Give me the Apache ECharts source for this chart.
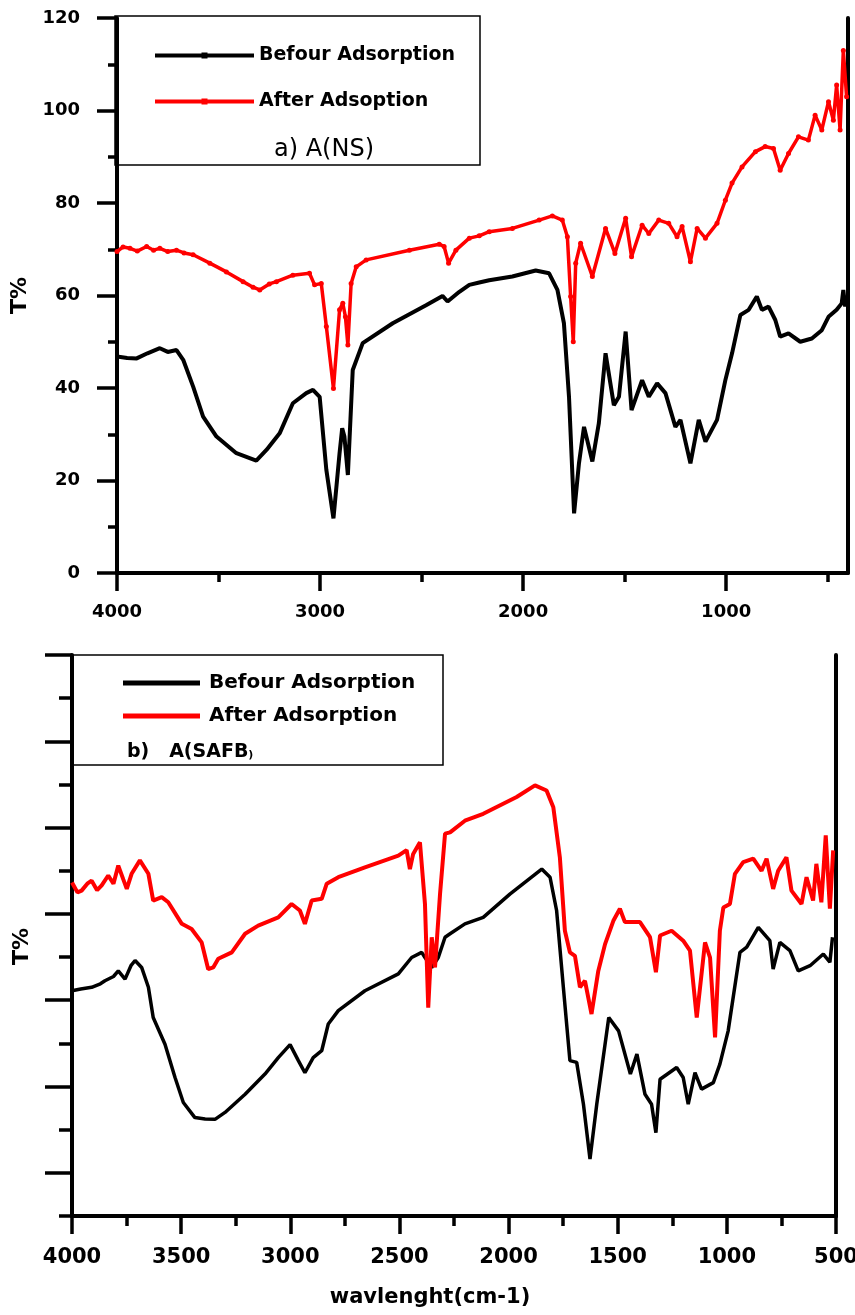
<!DOCTYPE html>
<html>
<head>
<meta charset="utf-8">
<script src="https://cdn.jsdelivr.net/npm/echarts@6/dist/echarts.min.js"></script>
<style>
html,body{margin:0;padding:0;background:#fff;}
#chart{width:855px;height:1315px;}
</style>
</head>
<body>
<div id="chart"></div>
<script>
// ---------- Panel a) A(NS) ----------
const nsBeforeWave = [4000,3950,3903,3850,3789,3750,3707,3674,3625,3576,3510,3412,3314,3264,3199,3134,3068,3035,3002,2969,2934,2904,2891,2880,2863,2839,2790,2642,2478,2397,2372,2314,2265,2216,2167,2053,1938,1872,1831,1799,1774,1749,1725,1700,1659,1627,1594,1553,1528,1495,1466,1414,1381,1340,1299,1250,1225,1176,1135,1102,1045,1004,971,930,889,849,824,791,758,734,693,635,578,529,496,456,431,423,414,408];
const nsBeforeT = [46.8,46.5,46.4,47.5,48.6,47.8,48.2,46.1,40.3,33.8,29.5,25.9,24.3,26.6,30.2,36.7,38.9,39.6,38.1,22.3,11.8,25.9,31.3,29.5,21.2,43.9,49.7,54,57.9,59.9,58.7,60.8,62.3,62.8,63.3,64.1,65.4,64.8,61.2,54,38.1,12.9,23.7,31.6,24.1,32.4,47.5,36.3,38.1,52.2,35.2,41.7,38.1,41,38.9,31.6,33.1,23.7,33.1,28.4,33.1,41.7,47.5,55.8,56.9,59.8,56.9,57.6,54.7,51.1,51.8,50,50.7,52.5,55.4,56.9,58.3,61.2,57.6,60];

const nsAfterWave = [4000,3970,3936,3900,3854,3820,3789,3750,3707,3670,3625,3543,3461,3379,3330,3297,3250,3215,3134,3052,3027,2994,2969,2934,2904,2888,2875,2863,2847,2822,2773,2560,2413,2389,2367,2331,2265,2216,2167,2053,1921,1856,1807,1782,1766,1753,1741,1717,1659,1594,1548,1495,1466,1414,1381,1332,1283,1242,1217,1176,1143,1102,1045,1004,971,922,856,808,767,734,693,644,595,562,529,496,472,456,439,423,407];
const nsAfterT = [69.5,70.5,70.2,69.6,70.6,69.8,70.2,69.5,69.8,69.2,68.8,67.0,65.1,63.0,61.8,61.2,62.5,63,64.4,64.8,62.3,62.6,53.3,39.9,56.9,58.3,55.4,49.3,62.6,66.2,67.7,69.8,71.1,70.6,67,69.8,72.4,72.9,73.8,74.5,76.3,77.2,76.3,72.7,59.8,50,67,71.3,64.1,74.5,69.1,76.7,68.4,75.2,73.4,76.3,75.6,72.7,74.9,67.3,74.5,72.4,75.6,80.6,84.3,87.8,91.1,92.2,91.8,87.1,90.7,94.3,93.6,99,95.8,101.9,97.9,105.5,95.8,113,103];

const topYTicks = [0,20,40,60,80,100,120];
const topXMajor = [4000,3000,2000,1000];
const topXMinor = [3500,2500,1500,500];

// ---------- Panel b) A(SAFB) ----------
const safbBeforeWave = [4000,3960,3910,3870,3849,3810,3788,3757,3730,3711,3681,3650,3628,3574,3528,3490,3437,3390,3345,3299,3207,3116,3055,3001,2963,2933,2895,2856,2826,2780,2658,2505,2444,2398,2383,2352,2322,2291,2268,2200,2116,1994,1848,1810,1780,1749,1719,1688,1657,1627,1596,1541,1496,1442,1412,1375,1345,1325,1306,1230,1200,1177,1146,1116,1062,1032,994,940,909,856,803,788,757,711,673,619,558,528,516];
const safbBeforeT = [52.2,52.6,53.0,53.8,54.5,55.5,56.8,54.9,58,59.2,57.6,53,46,39.8,32.1,26.3,22.8,22.5,22.4,24,28.2,32.9,36.7,39.7,36,33.2,36.7,38.3,44.5,47.6,52.2,56.1,59.9,61.1,59.9,57.6,59.9,64.6,65.4,67.7,69.2,74.6,80.4,78.5,70.8,53,36,35.6,25.9,13.2,25.9,46,42.9,32.9,37.5,28.2,25.9,19.3,31.7,34.4,32.1,25.9,33.2,29.4,30.9,35.2,42.9,61.1,62.3,66.9,63.8,57.2,63.4,61.5,56.8,58,60.7,58.8,64.6];

const safbAfterWave = [4000,3975,3956,3930,3910,3885,3864,3834,3810,3788,3765,3749,3727,3689,3650,3628,3589,3559,3497,3452,3406,3376,3353,3330,3268,3207,3147,3055,2994,2956,2933,2902,2856,2833,2780,2658,2505,2467,2452,2437,2406,2383,2368,2352,2337,2314,2291,2268,2200,2116,1963,1879,1826,1795,1765,1742,1719,1696,1673,1650,1620,1589,1558,1520,1490,1467,1398,1352,1325,1306,1253,1200,1169,1138,1100,1077,1054,1032,1016,986,963,925,879,841,818,788,765,727,704,658,635,605,590,567,547,528,513];
const safbAfterT = [77.3,75.0,75.4,77.0,77.7,75.5,76.6,78.9,77,81.2,78,75.8,79.3,82.4,79.3,73.1,73.9,72.7,67.7,66.5,63.4,57.2,57.6,59.6,61.1,65.4,67.3,69.2,72.3,70.8,67.7,73.1,73.5,77,78.5,80.8,83.5,84.8,80.4,83.9,86.6,72.3,48.3,64.6,57.6,74.6,88.6,88.9,91.6,93.2,97.1,99.8,98.6,94.7,83.1,66.1,61.1,60.3,53,54.5,46.8,56.8,63,68.4,71.2,68.1,68.1,64.6,56.5,65,66.1,63.8,61.5,46,63.4,59.9,41.4,66.1,71.5,72.3,79.3,82,82.8,80,82.8,75.8,80,83.1,75.4,72.3,78.5,73.1,81.6,72.7,88.2,71.2,84.7];

const botYLong = [10,30,50,70,90,110,130];
const botYShort = [0,20,40,60,80,100,120];

function pairs(w, t){ return w.map((v,i)=>[v,t[i]]); }
const plain = v => String(v);

const FONT = 'DejaVu Sans';
const black = '#000000', red = '#ff0000';
const axisLineStyle = {color: black, width: 4};
const tickLine = {color: black, width: 3.5};

const option = {
  backgroundColor: '#ffffff',
  animation: false,
  grid: [
    {left: 117, top: 18, width: 731, height: 555, outerBoundsMode: 'none', containLabel: false},
    {left: 72, top: 655, width: 764, height: 561, outerBoundsMode: 'none', containLabel: false}
  ],
  legend: [
    {
      left: 150, top: 41, orient: 'vertical',
      itemWidth: 99, itemHeight: 10, itemGap: 27,
      selectedMode: false,
      textStyle: {fontFamily: FONT, fontWeight: 'bold', fontSize: 19, color: black},
      data: [
        {name: 'Befour Adsorption', icon: 'path://M0,2L99,2L99,6L0,6Z M46.5,1L52.5,1L52.5,7L46.5,7Z'},
        {name: 'After Adsoption', icon: 'path://M0,2L99,2L99,6L0,6Z M46.5,1L52.5,1L52.5,7L46.5,7Z'}
      ]
    },
    {
      left: 118, top: 668, orient: 'vertical',
      itemWidth: 77, itemHeight: 5, itemGap: 13,
      selectedMode: false,
      textStyle: {fontFamily: FONT, fontWeight: 'bold', fontSize: 20, color: black, padding: [0,0,0,4]},
      data: [
        {name: 'Befour Adsorption', icon: 'rect'},
        {name: 'After Adsorption', icon: 'rect'}
      ]
    }
  ],
  xAxis: [
    {
      gridIndex: 0, type: 'value', min: 400, max: 4000, inverse: true, position: 'bottom',
      axisLine: {show: true, lineStyle: axisLineStyle},
      axisTick: {show: true, customValues: topXMajor, length: 18, lineStyle: tickLine},
      axisLabel: {customValues: topXMajor, formatter: plain, margin: 30, fontFamily: FONT, fontWeight: 'bold', fontSize: 18, color: black},
      splitLine: {show: false}
    },
    {
      gridIndex: 0, type: 'value', min: 400, max: 4000, inverse: true, position: 'bottom',
      axisLine: {show: false},
      axisTick: {show: true, customValues: topXMinor, length: 9, lineStyle: tickLine},
      axisLabel: {show: false},
      splitLine: {show: false}
    },
    {
      gridIndex: 1, type: 'value', min: 500, max: 4000, interval: 500, inverse: true, position: 'bottom',
      axisLine: {show: true, lineStyle: axisLineStyle},
      axisTick: {show: true, length: 18, lineStyle: tickLine},
      minorTick: {show: true, splitNumber: 2, length: 10, lineStyle: tickLine},
      axisLabel: {margin: 31, formatter: plain, fontFamily: FONT, fontWeight: 'bold', fontSize: 21, color: black},
      splitLine: {show: false},
      name: 'wavlenght(cm-1)', nameLocation: 'middle', nameGap: 71,
      nameTextStyle: {fontFamily: FONT, fontWeight: 'bold', fontSize: 21, color: black, padding: [0,48,0,0]}
    },
    {
      gridIndex: 1, type: 'value', min: 500, max: 4000, inverse: true, position: 'top',
      axisLine: {show: true, lineStyle: {color: black, width: 3}},
      axisTick: {show: false}, axisLabel: {show: false}, splitLine: {show: false}
    }
  ],
  yAxis: [
    {
      gridIndex: 0, type: 'value', min: 0, max: 120, interval: 20, position: 'left',
      axisLine: {show: true, lineStyle: axisLineStyle},
      axisTick: {show: true, length: 20, lineStyle: tickLine},
      minorTick: {show: true, splitNumber: 2, length: 9, lineStyle: tickLine},
      axisLabel: {margin: 37, formatter: plain, fontFamily: FONT, fontWeight: 'bold', fontSize: 18, color: black,
                  customValues: topYTicks},
      splitLine: {show: false},
      name: 'T%', nameLocation: 'middle', nameGap: 86, nameRotate: 90,
      nameTextStyle: {fontFamily: FONT, fontWeight: 'bold', fontSize: 22, color: black}
    },
    {
      gridIndex: 0, type: 'value', min: 0, max: 120, position: 'right',
      axisLine: {show: true, lineStyle: axisLineStyle},
      axisTick: {show: false}, axisLabel: {show: false}, splitLine: {show: false}
    },
    {
      gridIndex: 1, type: 'value', min: 0, max: 130, position: 'left',
      axisLine: {show: true, lineStyle: axisLineStyle},
      axisTick: {show: true, customValues: botYLong, length: 27, lineStyle: tickLine},
      axisLabel: {show: false},
      splitLine: {show: false},
      name: 'T%', nameLocation: 'middle', nameGap: 39, nameRotate: 90,
      nameTextStyle: {fontFamily: FONT, fontWeight: 'bold', fontSize: 22, color: black, padding: [0,22,0,0]}
    },
    {
      gridIndex: 1, type: 'value', min: 0, max: 130, position: 'left',
      axisLine: {show: false},
      axisTick: {show: true, customValues: botYShort, length: 13, lineStyle: tickLine},
      axisLabel: {show: false}, splitLine: {show: false}
    },
    {
      gridIndex: 1, type: 'value', min: 0, max: 130, position: 'right',
      axisLine: {show: true, lineStyle: axisLineStyle},
      axisTick: {show: false}, axisLabel: {show: false}, splitLine: {show: false}
    }
  ],
  graphic: [
    {type: 'rect', shape: {x: 115, y: 16, width: 365, height: 149},
     style: {fill: 'none', stroke: black, lineWidth: 1.5}, z: 10},
    {type: 'rect', shape: {x: 72, y: 655, width: 371, height: 110},
     style: {fill: 'none', stroke: black, lineWidth: 1.5}, z: 10},
    {type: 'text', x: 324, y: 150, z: 10,
     style: {text: 'a) A(NS)', fontFamily: FONT, fontSize: 24, fill: black, align: 'center', verticalAlign: 'middle'}},
    {type: 'text', x: 127, y: 752, z: 10,
     style: {text: '{a|b)   A(SAFB}{s|)}', align: 'left', verticalAlign: 'middle',
       rich: {
         a: {fontFamily: FONT, fontWeight: 'bold', fontSize: 19, fill: black},
         s: {fontFamily: FONT, fontWeight: 'bold', fontSize: 11, fill: black, padding: [6,0,0,0]}
       }}}
  ],
  series: [
    {
      name: 'Befour Adsorption', type: 'line', xAxisIndex: 0, yAxisIndex: 0,
      data: pairs(nsBeforeWave, nsBeforeT),
      symbol: 'none', lineStyle: {color: black, width: 4}, itemStyle: {color: black}, z: 3
    },
    {
      name: 'After Adsoption', type: 'line', xAxisIndex: 0, yAxisIndex: 0,
      data: pairs(nsAfterWave, nsAfterT),
      symbol: 'circle', symbolSize: 5, showSymbol: true,
      lineStyle: {color: red, width: 3.5}, itemStyle: {color: red}, z: 4
    },
    {
      name: 'Befour Adsorption', type: 'line', xAxisIndex: 2, yAxisIndex: 2,
      data: pairs(safbBeforeWave, safbBeforeT),
      symbol: 'none', lineStyle: {color: black, width: 3.5}, itemStyle: {color: black}, z: 3
    },
    {
      name: 'After Adsorption', type: 'line', xAxisIndex: 2, yAxisIndex: 2,
      data: pairs(safbAfterWave, safbAfterT),
      symbol: 'none', lineStyle: {color: red, width: 4}, itemStyle: {color: red}, z: 4
    }
  ]
};

const chart = echarts.init(document.getElementById('chart'), null, {renderer: 'canvas'});
chart.setOption(option);
</script>
</body>
</html>
